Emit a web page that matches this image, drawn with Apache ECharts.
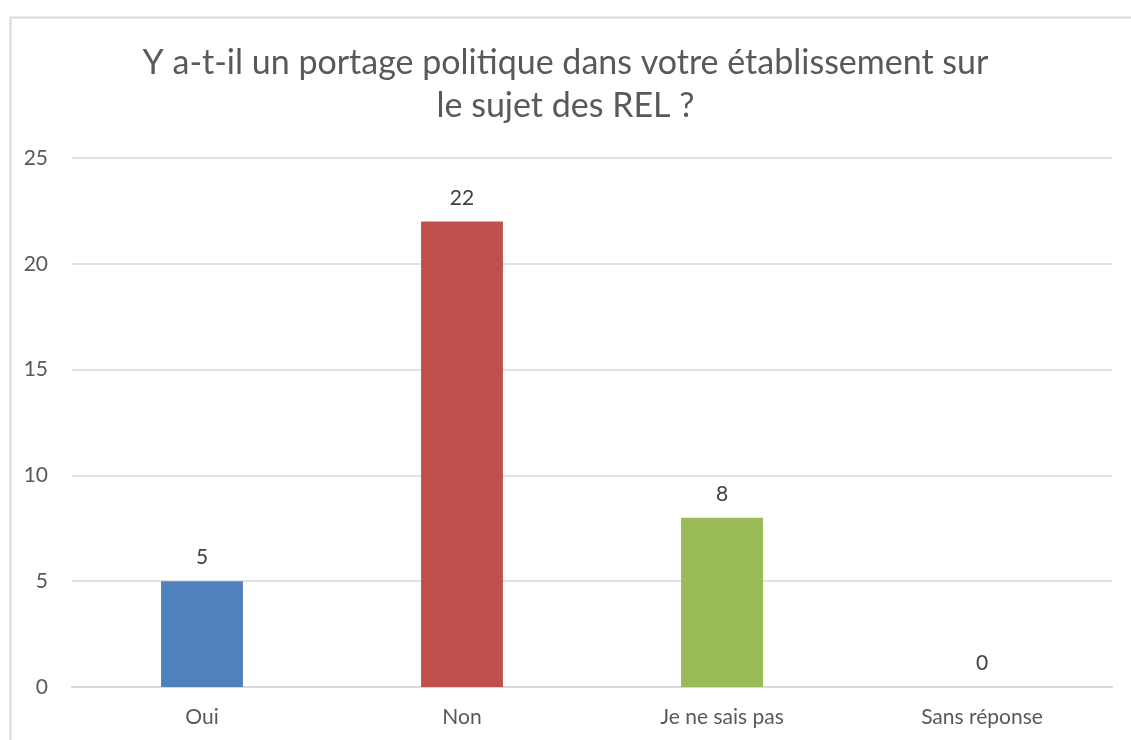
<!DOCTYPE html>
<html style="height: 100%">
<head>
    <meta charset="utf-8">
    <script src="https://cdn.jsdelivr.net/npm/echarts@6/dist/echarts.min.js"></script>
</head>
<body style="height: 100%; margin: 0; background: #fff">
    <div id="main" style="width: 1131px; height: 740px;"></div>
    <script type="text/javascript">
        var categories = ['Oui', 'Non', 'Je ne sais pas', 'Sans réponse'];
        var values = [5, 22, 8, 0];
        var colors = ['#4F81BD', '#C0504D', '#9BBB59', '#8064A2'];
        var titleText = 'Y a-t-il un portage politique dans votre établissement sur\nle sujet des REL ?';

        var myChart = echarts.init(document.getElementById('main'));
        var font = 'Lato, "Open Sans", sans-serif';
        myChart.setOption({
            animation: false,
            textStyle: { fontFamily: font },
            graphic: [{
                type: 'rect',
                left: 8, top: 15,
                shape: { width: 1300, height: 900 },
                style: { fill: 'none', stroke: '#d9d9d9', lineWidth: 2 },
                silent: true
            }],
            title: {
                text: titleText,
                left: 'center',
                top: 37,
                textStyle: {
                    fontFamily: font,
                    fontSize: 34,
                    fontWeight: 'normal',
                    color: '#595959',
                    lineHeight: 43
                }
            },
            grid: { left: 72, right: 19, top: 158, bottom: 53, containLabel: false },
            xAxis: {
                type: 'category',
                data: categories,
                axisLine: { lineStyle: { color: '#d9d9d9', width: 2 } },
                axisTick: { show: false },
                axisLabel: { color: '#595959', fontSize: 21, margin: 20, fontFamily: font }
            },
            yAxis: {
                type: 'value',
                min: 0, max: 25, interval: 5,
                axisLine: { show: false },
                axisTick: { show: false },
                splitLine: { lineStyle: { color: '#d9d9d9', width: 1.5 } },
                axisLabel: { color: '#595959', fontSize: 21, margin: 24, fontFamily: font }
            },
            series: [{
                type: 'bar',
                barWidth: '31.5%',
                data: values.map(function (v, i) {
                    return { value: v, itemStyle: { color: colors[i] } };
                }),
                label: {
                    show: true,
                    position: 'top',
                    distance: 13,
                    color: '#404040',
                    fontSize: 21,
                    fontFamily: font
                }
            }]
        });
    </script>
</body>
</html>
